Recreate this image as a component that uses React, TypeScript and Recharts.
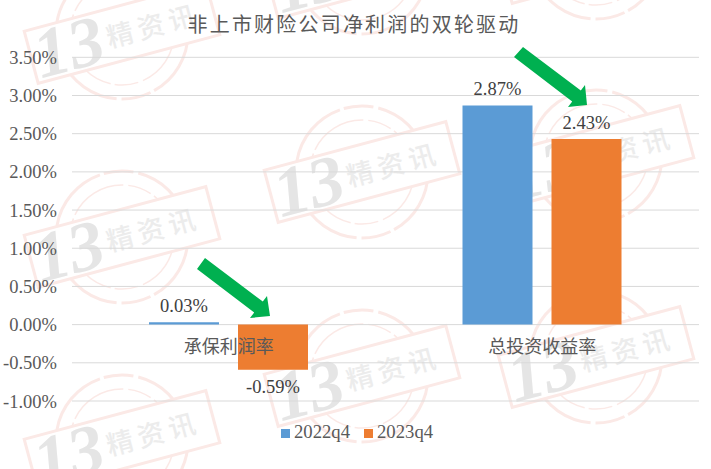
import React from 'react';
import { BarChart, Bar, XAxis, YAxis, CartesianGrid, Legend, LabelList } from 'recharts';

const categories = ['承保利润率', '总投资收益率'];
const series2022q4 = [0.03, 2.87];
const series2023q4 = [-0.59, 2.43];
const yTicks = [-1, -0.5, 0, 0.5, 1, 1.5, 2, 2.5, 3, 3.5];
const seriesNames = ['2022q4', '2023q4'];
const titleText = '非上市财险公司净利润的双轮驱动';
const rows = categories.map((c, i) => ({ category: c, a: series2022q4[i], b: series2023q4[i] }));

const stampCentres = [
  [122, 33], [122, 237], [122, 441],
  [362, -32], [362, 172], [362, 376],
  [596, -47], [596, 156], [596, 357],
];
const arrows = [
  '523,47 580.8,90.5 585,85 587,105 568,107 572.2,101.5 514,57',
  '205,258 262.8,301.5 267,296 270,316 250,318 254.2,312.5 197,269',
];

const SERIF = '"Liberation Serif", "Noto Sans CJK SC", serif';
const TEXT = '#595959';
const PINK = '#fbe9e6';

const fmt = (v: number) => `${v.toFixed(2)}%`;

function Stamp({ x, y }: { x: number; y: number }) {
  return (
    <g transform={`translate(${x},${y})`}>
      <circle r={66} fill="none" stroke={PINK} strokeWidth={3} strokeDasharray="70 4 30 5" />
      <circle r={52} fill="none" stroke={PINK} strokeWidth={1.5} strokeDasharray="60 5 24 4" />
      <g transform="rotate(-15)">
        <rect x={-94} y={-27} width={188} height={54} fill="#fff" stroke={PINK} strokeWidth={3} />
        <text x={-90} y={23} fontFamily={SERIF} fontWeight={700} fontStyle="italic" fontSize={70} fill="#e5e5e5">13</text>
        <text x={-16} y={11} fontFamily='"Noto Sans CJK SC", sans-serif' fontWeight={500} fontSize={27} letterSpacing={5} fill="#ececec">精资讯</text>
      </g>
    </g>
  );
}

export default function App() {
  return (
    <div style={{ position: 'fixed', left: 0, top: 0, width: 711, height: 469, background: '#fff', overflow: 'hidden' }}>
      <svg width={711} height={469} style={{ position: 'absolute', left: 0, top: 0 }}>
        {stampCentres.map(([x, y], i) => <Stamp key={i} x={x} y={y} />)}
      </svg>
      <div style={{ position: 'absolute', left: 0, top: 0 }}>
        <BarChart
          width={711}
          height={469}
          data={rows}
          margin={{ top: 57.3, right: 12, bottom: 45, left: 0 }}
          barSize={70}
          barGap={19}
          style={{ fontFamily: SERIF }}
        >
          <CartesianGrid vertical={false} stroke="#d9d9d9" strokeWidth={1} />
          <YAxis
            width={72}
            domain={[-1, 3.5]}
            ticks={yTicks}
            interval={0}
            tickFormatter={fmt}
            axisLine={false}
            tickLine={false}
            tickMargin={9}
            tick={{ fontSize: 18.5, fill: TEXT, fontFamily: SERIF }}
          />
          <Bar dataKey="a" name={seriesNames[0]} fill="#5b9bd5" isAnimationActive={false}>
            <LabelList dataKey="a" position="top" offset={10} formatter={fmt} style={{ fontSize: 18.5, fill: '#404040', fontFamily: SERIF }} />
          </Bar>
          <Bar dataKey="b" name={seriesNames[1]} fill="#ed7d31" isAnimationActive={false}>
            <LabelList dataKey="b" position="top" offset={10} formatter={fmt} style={{ fontSize: 18.5, fill: '#404040', fontFamily: SERIF }} />
          </Bar>
          <XAxis
            dataKey="category"
            height={1}
            axisLine={false}
            tickLine={false}
            interval={0}
            tick={{ fontSize: 18, fill: TEXT, fontFamily: SERIF, dy: -68.5 }}
          />
          <Legend
            verticalAlign="bottom"
            iconType="square"
            iconSize={9}
            wrapperStyle={{ bottom: 26, left: 14.5, fontFamily: SERIF, fontSize: 18.7 }}
            formatter={(v: string) => <span style={{ color: TEXT, paddingRight: 4 }}>{v}</span>}
          />
        </BarChart>
      </div>
      <svg width={711} height={469} style={{ position: 'absolute', left: 0, top: 0, pointerEvents: 'none' }}>
        <text x={354} y={32} textAnchor="middle" fontFamily={SERIF} fontSize={20} letterSpacing={2.2} fill={TEXT}>{titleText}</text>
        {arrows.map((p, i) => <polygon key={i} points={p} fill="#00b050" />)}
      </svg>
    </div>
  );
}
